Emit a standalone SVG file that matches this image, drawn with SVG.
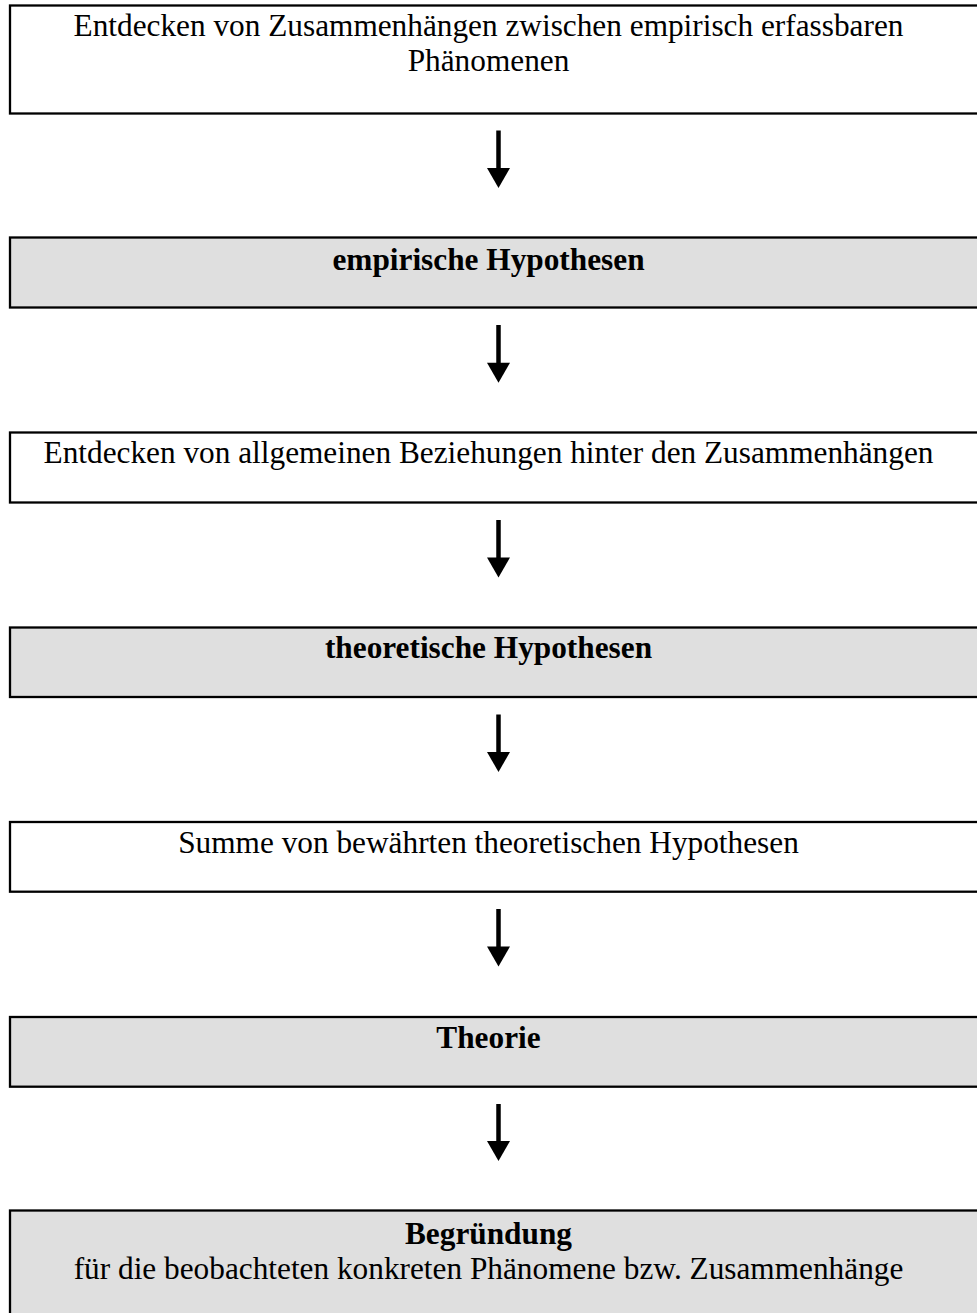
<svg xmlns="http://www.w3.org/2000/svg" width="977" height="1313" viewBox="0 0 977 1313">
<defs>
<style>
.box{stroke:#000;stroke-width:2.3}
.w{fill:#fff}
.g{fill:#dfdfdf}
.t{font-family:"Liberation Serif","Times New Roman",serif;font-size:31.3px;fill:#000;text-anchor:middle}
.b{font-weight:bold}
.shaft{stroke:#000;stroke-width:4.5}
.head{fill:#000}
</style>
</defs>
<rect width="977" height="1313" fill="#fff"/>
<g id="n1"><rect class="box w" x="10" y="5.5" width="990" height="108"/>
<text class="t" x="488.5" y="36">Entdecken von Zusammenhängen zwischen empirisch erfassbaren</text>
<text class="t" x="488.5" y="71">Phänomenen</text></g>
<g id="n2"><rect class="box g" x="10" y="237.5" width="990" height="70"/>
<text class="t b" x="488.5" y="269.5">empirische Hypothesen</text></g>
<g id="n3"><rect class="box w" x="10" y="432.5" width="990" height="70"/>
<text class="t" x="488.5" y="463">Entdecken von allgemeinen Beziehungen hinter den Zusammenhängen</text></g>
<g id="n4"><rect class="box g" x="10" y="627.5" width="990" height="69.5"/>
<text class="t b" x="488.5" y="658">theoretische Hypothesen</text></g>
<g id="n5"><rect class="box w" x="10" y="822" width="990" height="69.7"/>
<text class="t" x="488.5" y="852.5">Summe von bewährten theoretischen Hypothesen</text></g>
<g id="n6"><rect class="box g" x="10" y="1017" width="990" height="69.7"/>
<text class="t b" x="488.5" y="1047.5">Theorie</text></g>
<g id="n7"><rect class="box g" x="10" y="1210.5" width="990" height="120"/>
<text class="t b" x="488.5" y="1244">Begründung</text>
<text class="t" x="488.5" y="1279">für die beobachteten konkreten Phänomene bzw. Zusammenhänge</text></g>
<g id="connectors">
<line class="shaft" x1="498.5" y1="130.5" x2="498.5" y2="170"/><polygon class="head" points="487,168 510,168 498.5,188"/>
<line class="shaft" x1="498.5" y1="325" x2="498.5" y2="365"/><polygon class="head" points="487,362.7 510,362.7 498.5,382.7"/>
<line class="shaft" x1="498.5" y1="520" x2="498.5" y2="560"/><polygon class="head" points="487,557.5 510,557.5 498.5,577.5"/>
<line class="shaft" x1="498.5" y1="714.5" x2="498.5" y2="754"/><polygon class="head" points="487,752 510,752 498.5,772"/>
<line class="shaft" x1="498.5" y1="909" x2="498.5" y2="949"/><polygon class="head" points="487,946.5 510,946.5 498.5,966.5"/>
<line class="shaft" x1="498.5" y1="1104" x2="498.5" y2="1143"/><polygon class="head" points="487,1141 510,1141 498.5,1161"/>
</g>
</svg>
